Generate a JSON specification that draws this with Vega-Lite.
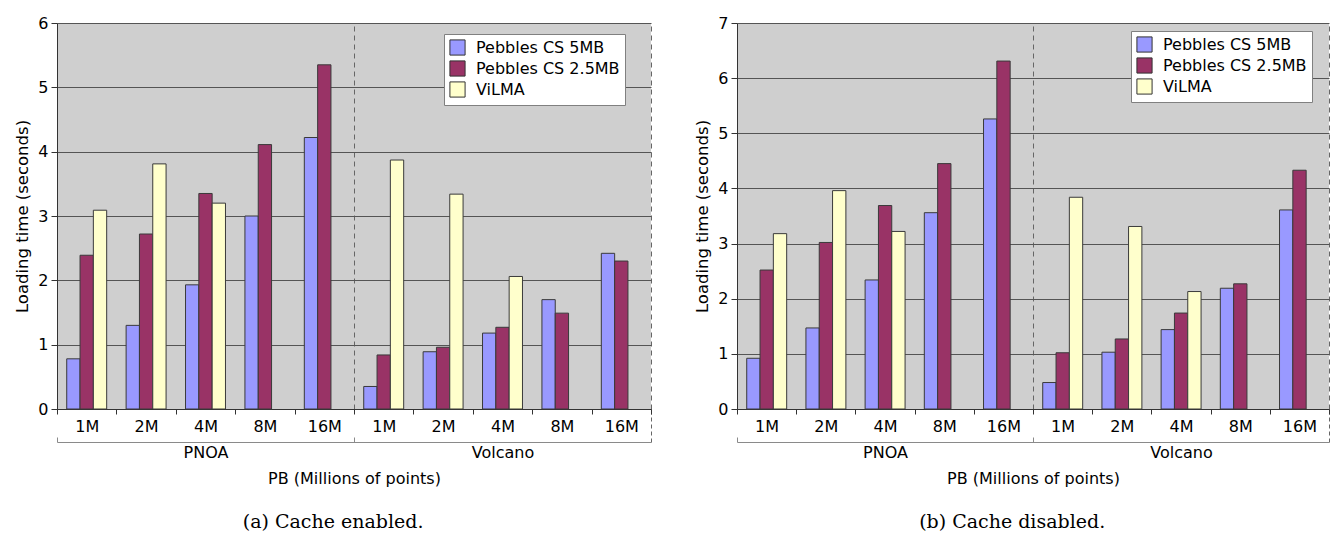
{
  "$schema": "https://vega.github.io/schema/vega-lite/v6.json",
  "background": "white",
  "padding": {"left": 14, "top": 15, "right": 0, "bottom": 0},
  "datasets": {
    "enabled": [
      {"group": "PNOA", "size": "1M", "series": "Pebbles CS 5MB", "time": 0.78},
      {"group": "PNOA", "size": "1M", "series": "Pebbles CS 2.5MB", "time": 2.39},
      {"group": "PNOA", "size": "1M", "series": "ViLMA", "time": 3.09},
      {"group": "PNOA", "size": "2M", "series": "Pebbles CS 5MB", "time": 1.30},
      {"group": "PNOA", "size": "2M", "series": "Pebbles CS 2.5MB", "time": 2.72},
      {"group": "PNOA", "size": "2M", "series": "ViLMA", "time": 3.81},
      {"group": "PNOA", "size": "4M", "series": "Pebbles CS 5MB", "time": 1.93},
      {"group": "PNOA", "size": "4M", "series": "Pebbles CS 2.5MB", "time": 3.35},
      {"group": "PNOA", "size": "4M", "series": "ViLMA", "time": 3.20},
      {"group": "PNOA", "size": "8M", "series": "Pebbles CS 5MB", "time": 3.00},
      {"group": "PNOA", "size": "8M", "series": "Pebbles CS 2.5MB", "time": 4.11},
      {"group": "PNOA", "size": "16M", "series": "Pebbles CS 5MB", "time": 4.22},
      {"group": "PNOA", "size": "16M", "series": "Pebbles CS 2.5MB", "time": 5.35},
      {"group": "Volcano", "size": "1M", "series": "Pebbles CS 5MB", "time": 0.35},
      {"group": "Volcano", "size": "1M", "series": "Pebbles CS 2.5MB", "time": 0.84},
      {"group": "Volcano", "size": "1M", "series": "ViLMA", "time": 3.87},
      {"group": "Volcano", "size": "2M", "series": "Pebbles CS 5MB", "time": 0.89},
      {"group": "Volcano", "size": "2M", "series": "Pebbles CS 2.5MB", "time": 0.96},
      {"group": "Volcano", "size": "2M", "series": "ViLMA", "time": 3.34},
      {"group": "Volcano", "size": "4M", "series": "Pebbles CS 5MB", "time": 1.18},
      {"group": "Volcano", "size": "4M", "series": "Pebbles CS 2.5MB", "time": 1.27},
      {"group": "Volcano", "size": "4M", "series": "ViLMA", "time": 2.06},
      {"group": "Volcano", "size": "8M", "series": "Pebbles CS 5MB", "time": 1.70},
      {"group": "Volcano", "size": "8M", "series": "Pebbles CS 2.5MB", "time": 1.49},
      {"group": "Volcano", "size": "16M", "series": "Pebbles CS 5MB", "time": 2.42},
      {"group": "Volcano", "size": "16M", "series": "Pebbles CS 2.5MB", "time": 2.30}
    ],
    "disabled": [
      {"group": "PNOA", "size": "1M", "series": "Pebbles CS 5MB", "time": 0.92},
      {"group": "PNOA", "size": "1M", "series": "Pebbles CS 2.5MB", "time": 2.52},
      {"group": "PNOA", "size": "1M", "series": "ViLMA", "time": 3.18},
      {"group": "PNOA", "size": "2M", "series": "Pebbles CS 5MB", "time": 1.47},
      {"group": "PNOA", "size": "2M", "series": "Pebbles CS 2.5MB", "time": 3.02},
      {"group": "PNOA", "size": "2M", "series": "ViLMA", "time": 3.96},
      {"group": "PNOA", "size": "4M", "series": "Pebbles CS 5MB", "time": 2.34},
      {"group": "PNOA", "size": "4M", "series": "Pebbles CS 2.5MB", "time": 3.69},
      {"group": "PNOA", "size": "4M", "series": "ViLMA", "time": 3.22},
      {"group": "PNOA", "size": "8M", "series": "Pebbles CS 5MB", "time": 3.56},
      {"group": "PNOA", "size": "8M", "series": "Pebbles CS 2.5MB", "time": 4.45},
      {"group": "PNOA", "size": "16M", "series": "Pebbles CS 5MB", "time": 5.26},
      {"group": "PNOA", "size": "16M", "series": "Pebbles CS 2.5MB", "time": 6.31},
      {"group": "Volcano", "size": "1M", "series": "Pebbles CS 5MB", "time": 0.48},
      {"group": "Volcano", "size": "1M", "series": "Pebbles CS 2.5MB", "time": 1.02},
      {"group": "Volcano", "size": "1M", "series": "ViLMA", "time": 3.84},
      {"group": "Volcano", "size": "2M", "series": "Pebbles CS 5MB", "time": 1.03},
      {"group": "Volcano", "size": "2M", "series": "Pebbles CS 2.5MB", "time": 1.27},
      {"group": "Volcano", "size": "2M", "series": "ViLMA", "time": 3.31},
      {"group": "Volcano", "size": "4M", "series": "Pebbles CS 5MB", "time": 1.44},
      {"group": "Volcano", "size": "4M", "series": "Pebbles CS 2.5MB", "time": 1.74},
      {"group": "Volcano", "size": "4M", "series": "ViLMA", "time": 2.13},
      {"group": "Volcano", "size": "8M", "series": "Pebbles CS 5MB", "time": 2.19},
      {"group": "Volcano", "size": "8M", "series": "Pebbles CS 2.5MB", "time": 2.27},
      {"group": "Volcano", "size": "16M", "series": "Pebbles CS 5MB", "time": 3.61},
      {"group": "Volcano", "size": "16M", "series": "Pebbles CS 2.5MB", "time": 4.33}
    ],
    "groups": [{"group": "PNOA"}, {"group": "Volcano"}]
  },
  "spacing": 42,
  "resolve": {
    "scale": {"x": "independent", "y": "independent", "color": "independent"},
    "legend": {"color": "independent"}
  },
  "hconcat": [
    {
      "width": 594,
      "height": 386,
      "title": {"text": "(a) Cache enabled.", "orient": "bottom", "anchor": "middle", "frame": "bounds", "font": "DejaVu Serif", "fontSize": 19, "fontWeight": "normal", "color": "black", "offset": 27},
      "layer": [
        {
          "data": {"name": "groups"},
          "mark": {"type": "bar", "opacity": 0},
          "encoding": {
            "x": {
              "field": "group", "type": "nominal", "sort": null,
              "scale": {"paddingInner": 0, "paddingOuter": 0},
              "axis": {
                "orient": "bottom", "offset": 33, "title": "PB (Millions of points)",
                "titleFont": "DejaVu Sans", "titleFontSize": 16, "titleFontWeight": "normal", "titleColor": "black", "titlePadding": 10,
                "labelFont": "DejaVu Sans", "labelFontSize": 16, "labelColor": "black", "labelAngle": 0,
                "labelPadding": {"condition": {"test": "datum.value === 'Volcano'", "value": 35}, "value": 7},
                "tickBand": "extent",
                "tickSize": {"condition": {"test": "datum.value === 'Volcano'", "value": -33}, "value": -5},
                "tickDash": {"condition": {"test": "datum.value === 'Volcano'", "value": [4, 3]}, "value": []},
                "tickColor": {"condition": {"test": "datum.value === 'Volcano'", "value": "#666666"}, "value": "#8a8a8a"},
                "domainColor": "#8a8a8a",
                "grid": true, "gridDash": [5, 4], "gridColor": "#666666", "gridWidth": 1
              }
            }
          }
        },
        {
          "data": {"name": "enabled"},
          "transform": [{"calculate": "datum.group + ' ' + datum.size", "as": "key"}],
          "mark": {"type": "bar", "stroke": "#3a3a3a", "strokeWidth": 1},
          "encoding": {
            "x": {
              "field": "key", "type": "nominal", "sort": null,
              "scale": {"paddingInner": 0, "paddingOuter": 0},
              "axis": {
                "orient": "bottom", "title": null, "labelExpr": "split(datum.value, ' ')[1]", "tickBand": "extent",
                "tickSize": 5, "tickColor": "#333333", "domainColor": "#333333",
                "labelFont": "DejaVu Sans", "labelFontSize": 16, "labelColor": "black", "labelPadding": 4, "labelAngle": 0, "grid": false
              }
            },
            "xOffset": {
              "field": "series", "type": "nominal",
              "scale": {"domain": ["Pebbles CS 5MB", "Pebbles CS 2.5MB", "ViLMA"], "paddingInner": 0, "paddingOuter": 0.73}
            },
            "y": {
              "field": "time", "type": "quantitative",
              "scale": {"domain": [0, 6], "nice": false},
              "axis": {
                "title": "Loading time (seconds)", "titleFont": "DejaVu Sans", "titleFontSize": 16.5, "titleFontWeight": "normal", "titleColor": "black", "titlePadding": 7,
                "values": [0, 1, 2, 3, 4, 5, 6],
                "labelFont": "DejaVu Sans", "labelFontSize": 16, "labelColor": "black", "labelPadding": 3,
                "tickSize": 6, "tickColor": "#333333", "domainColor": "#333333",
                "grid": true, "gridColor": "#555555", "gridWidth": 1
              }
            },
            "color": {
              "field": "series", "type": "nominal",
              "scale": {"domain": ["Pebbles CS 5MB", "Pebbles CS 2.5MB", "ViLMA"], "range": ["#9999ff", "#993366", "#ffffcc"]},
              "legend": {
                "title": null, "orient": "none", "legendX": 387, "legendY": 11,
                "fillColor": "white", "strokeColor": "#808080", "padding": 5,
                "symbolType": "square", "symbolSize": 230, "symbolStrokeColor": "#333333", "symbolStrokeWidth": 1,
                "labelFont": "DejaVu Sans", "labelFontSize": 16, "labelColor": "black", "labelOffset": 10, "rowPadding": 0
              }
            }
          }
        }
      ],
      "resolve": {"scale": {"x": "independent"}, "axis": {"x": "independent"}}
    },
    {
      "width": 592,
      "height": 386,
      "title": {"text": "(b) Cache disabled.", "orient": "bottom", "anchor": "middle", "frame": "bounds", "font": "DejaVu Serif", "fontSize": 19, "fontWeight": "normal", "color": "black", "offset": 27},
      "layer": [
        {
          "data": {"name": "groups"},
          "mark": {"type": "bar", "opacity": 0},
          "encoding": {
            "x": {
              "field": "group", "type": "nominal", "sort": null,
              "scale": {"paddingInner": 0, "paddingOuter": 0},
              "axis": {
                "orient": "bottom", "offset": 33, "title": "PB (Millions of points)",
                "titleFont": "DejaVu Sans", "titleFontSize": 16, "titleFontWeight": "normal", "titleColor": "black", "titlePadding": 10,
                "labelFont": "DejaVu Sans", "labelFontSize": 16, "labelColor": "black", "labelAngle": 0,
                "labelPadding": {"condition": {"test": "datum.value === 'Volcano'", "value": 35}, "value": 7},
                "tickBand": "extent",
                "tickSize": {"condition": {"test": "datum.value === 'Volcano'", "value": -33}, "value": -5},
                "tickDash": {"condition": {"test": "datum.value === 'Volcano'", "value": [4, 3]}, "value": []},
                "tickColor": {"condition": {"test": "datum.value === 'Volcano'", "value": "#666666"}, "value": "#8a8a8a"},
                "domainColor": "#8a8a8a",
                "grid": true, "gridDash": [5, 4], "gridColor": "#666666", "gridWidth": 1
              }
            }
          }
        },
        {
          "data": {"name": "disabled"},
          "transform": [{"calculate": "datum.group + ' ' + datum.size", "as": "key"}],
          "mark": {"type": "bar", "stroke": "#3a3a3a", "strokeWidth": 1},
          "encoding": {
            "x": {
              "field": "key", "type": "nominal", "sort": null,
              "scale": {"paddingInner": 0, "paddingOuter": 0},
              "axis": {
                "orient": "bottom", "title": null, "labelExpr": "split(datum.value, ' ')[1]", "tickBand": "extent",
                "tickSize": 5, "tickColor": "#333333", "domainColor": "#333333",
                "labelFont": "DejaVu Sans", "labelFontSize": 16, "labelColor": "black", "labelPadding": 4, "labelAngle": 0, "grid": false
              }
            },
            "xOffset": {
              "field": "series", "type": "nominal",
              "scale": {"domain": ["Pebbles CS 5MB", "Pebbles CS 2.5MB", "ViLMA"], "paddingInner": 0, "paddingOuter": 0.73}
            },
            "y": {
              "field": "time", "type": "quantitative",
              "scale": {"domain": [0, 7], "nice": false},
              "axis": {
                "title": "Loading time (seconds)", "titleFont": "DejaVu Sans", "titleFontSize": 16.5, "titleFontWeight": "normal", "titleColor": "black", "titlePadding": 7,
                "values": [0, 1, 2, 3, 4, 5, 6, 7],
                "labelFont": "DejaVu Sans", "labelFontSize": 16, "labelColor": "black", "labelPadding": 3,
                "tickSize": 6, "tickColor": "#333333", "domainColor": "#333333",
                "grid": true, "gridColor": "#555555", "gridWidth": 1
              }
            },
            "color": {
              "field": "series", "type": "nominal",
              "scale": {"domain": ["Pebbles CS 5MB", "Pebbles CS 2.5MB", "ViLMA"], "range": ["#9999ff", "#993366", "#ffffcc"]},
              "legend": {
                "title": null, "orient": "none", "legendX": 394, "legendY": 8,
                "fillColor": "white", "strokeColor": "#808080", "padding": 5,
                "symbolType": "square", "symbolSize": 230, "symbolStrokeColor": "#333333", "symbolStrokeWidth": 1,
                "labelFont": "DejaVu Sans", "labelFontSize": 16, "labelColor": "black", "labelOffset": 10, "rowPadding": 0
              }
            }
          }
        }
      ],
      "resolve": {"scale": {"x": "independent"}, "axis": {"x": "independent"}}
    }
  ],
  "config": {
    "view": {"fill": "#cfcfcf", "stroke": null},
    "font": "DejaVu Sans"
  }
}
